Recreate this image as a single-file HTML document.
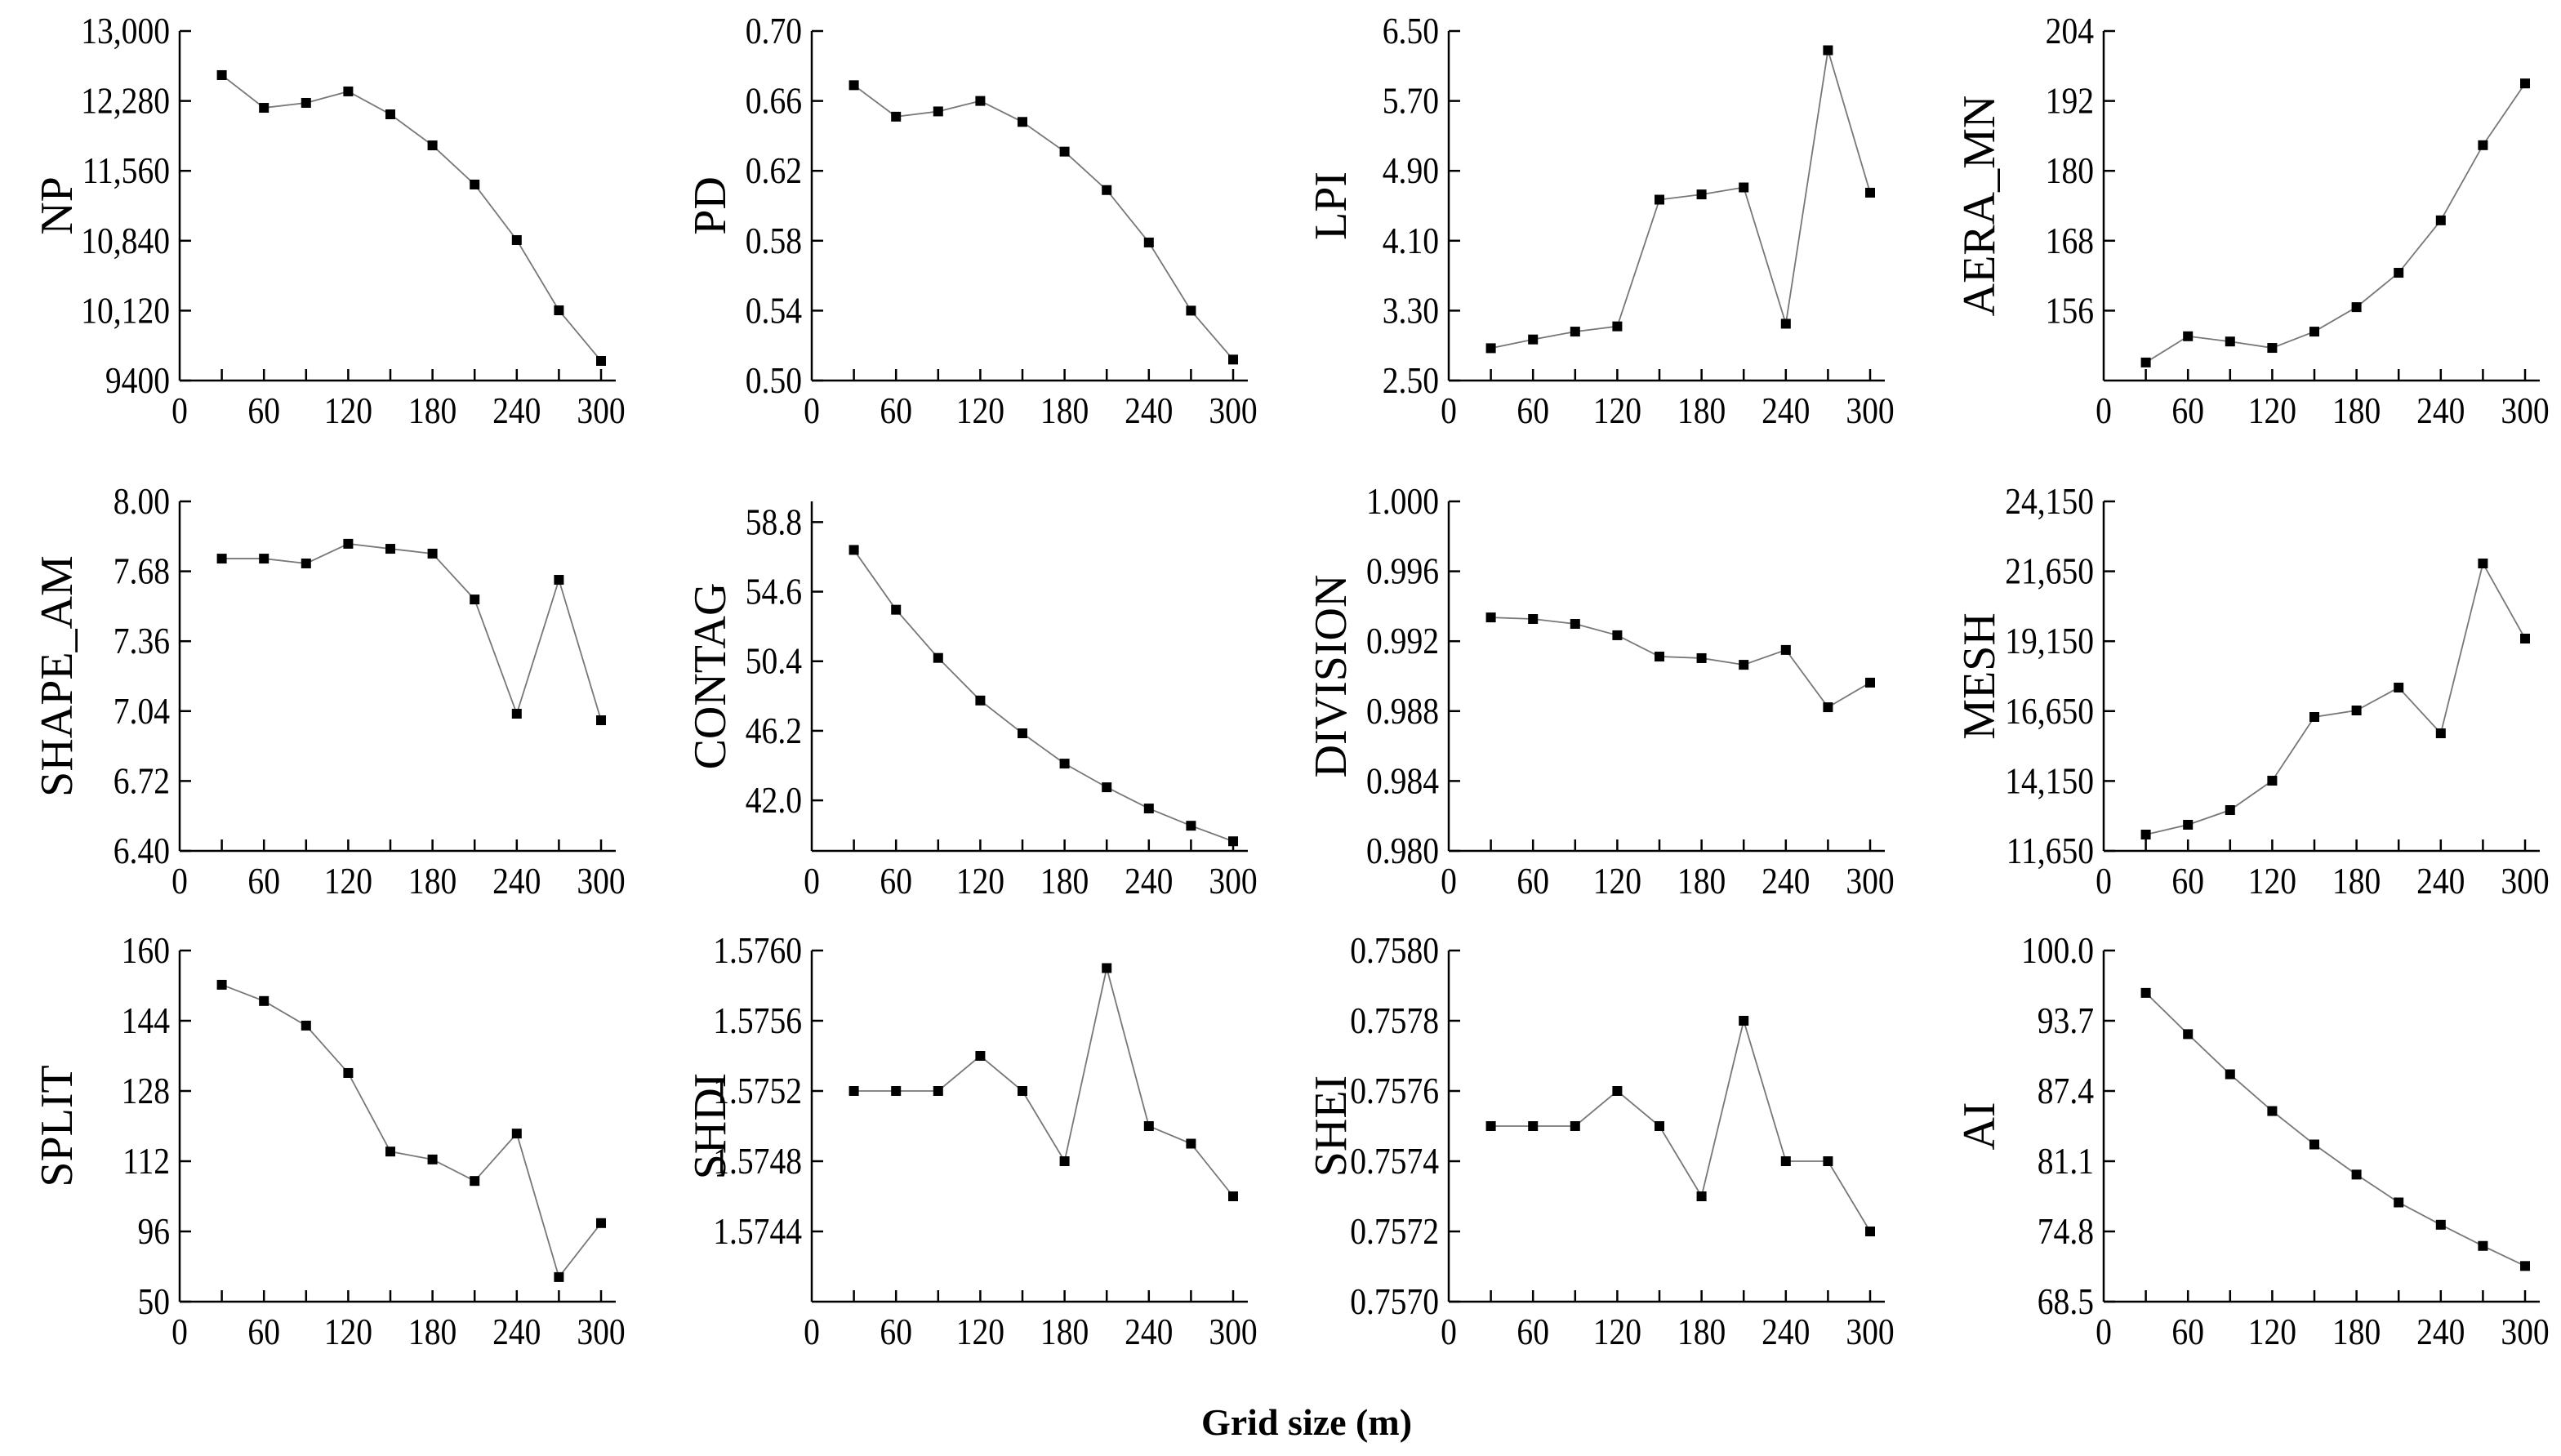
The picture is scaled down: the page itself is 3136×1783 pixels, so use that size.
<!DOCTYPE html>
<html><head><meta charset="utf-8">
<style>
html,body{margin:0;padding:0;background:#fff;}
svg{display:block;}
svg text{font-family:"Liberation Serif","Times New Roman",serif;}
</style></head>
<body>
<svg id="chart" width="3136" height="1783" viewBox="0 0 3136 1783" xmlns="http://www.w3.org/2000/svg">
<text x="1600" y="1757" text-anchor="middle" font-size="46" font-weight="bold" font-family="Liberation Serif, serif">Grid size (m)</text>
</svg>
<script>
const grid = [30,60,90,120,150,180,210,240,270,300];
const xTickValues = [0,60,120,180,240,300];
const xMinorTicks = [30,90,150,210,270];

const npValues = [12546,12209,12260,12378,12142,11822,11419,10847,10123,9602];
const pdValues = [0.669,0.651,0.654,0.660,0.648,0.631,0.609,0.579,0.540,0.512];
const lpiValues = [2.87,2.97,3.06,3.12,4.57,4.63,4.71,3.15,6.28,4.65];
const aeraValues = [147.1,151.6,150.7,149.6,152.4,156.6,162.5,171.5,184.4,195.0];
const shapeValues = [7.738,7.738,7.716,7.806,7.783,7.761,7.551,7.028,7.641,6.998];
const contagValues = [57.12,53.51,50.60,48.03,46.05,44.22,42.79,41.51,40.47,39.53];
const divisionValues = [0.99336,0.99327,0.99299,0.99234,0.99112,0.99103,0.99065,0.9915,0.98822,0.98963];
const meshValues = [12234,12585,13110,14161,16440,16673,17491,15856,21930,19243];
const splitValues = [152.2,148.5,142.9,132.1,114.2,112.4,107.5,118.3,85.6,97.9];
const shdiValues = [1.5752,1.5752,1.5752,1.5754,1.5752,1.5748,1.5759,1.5750,1.5749,1.5746];
const sheiValues = [0.7575,0.7575,0.7575,0.7576,0.7575,0.7573,0.7578,0.7574,0.7574,0.7572];
const aiValues = [96.2,92.5,88.9,85.6,82.6,79.9,77.4,75.4,73.5,71.7];

const npTicks = [9400,10120,10840,11560,12280,13000];
const npTickLabels = ["9400","10,120","10,840","11,560","12,280","13,000"];
const pdTicks = [0.50,0.54,0.58,0.62,0.66,0.70];
const pdTickLabels = ["0.50","0.54","0.58","0.62","0.66","0.70"];
const lpiTicks = [2.5,3.3,4.1,4.9,5.7,6.5];
const lpiTickLabels = ["2.50","3.30","4.10","4.90","5.70","6.50"];
const aeraTicks = [156,168,180,192,204];
const aeraTickLabels = ["156","168","180","192","204"];
const shapeTicks = [6.40,6.72,7.04,7.36,7.68,8.00];
const shapeTickLabels = ["6.40","6.72","7.04","7.36","7.68","8.00"];
const contagTicks = [42.0,46.2,50.4,54.6,58.8];
const contagTickLabels = ["42.0","46.2","50.4","54.6","58.8"];
const divisionTicks = [0.980,0.984,0.988,0.992,0.996,1.000];
const divisionTickLabels = ["0.980","0.984","0.988","0.992","0.996","1.000"];
const meshTicks = [11650,14150,16650,19150,21650,24150];
const meshTickLabels = ["11,650","14,150","16,650","19,150","21,650","24,150"];
const splitTicks = [80,96,112,128,144,160];
const splitTickLabels = ["50","96","112","128","144","160"];
const shdiTicks = [1.5744,1.5748,1.5752,1.5756,1.5760];
const shdiTickLabels = ["1.5744","1.5748","1.5752","1.5756","1.5760"];
const sheiTicks = [0.7570,0.7572,0.7574,0.7576,0.7578,0.7580];
const sheiTickLabels = ["0.7570","0.7572","0.7574","0.7576","0.7578","0.7580"];
const aiTicks = [68.5,74.8,81.1,87.4,93.7,100.0];
const aiTickLabels = ["68.5","74.8","81.1","87.4","93.7","100.0"];

const NS = "http://www.w3.org/2000/svg";
const svg = document.getElementById('chart');
const colX = [220,994,1774,2576];
const titleOff = [150,124,144,152];
const rowY = [[38,466],[614,1042],[1164,1594]];
const plotW = 516;
const FF = "Liberation Serif, serif";

const panels = [
 {title:"NP",key:"np",vals:npValues,dom:[9400,13000],t:npTicks,l:npTickLabels,c:0,r:0},
 {title:"PD",key:"pd",vals:pdValues,dom:[0.50,0.70],t:pdTicks,l:pdTickLabels,c:1,r:0},
 {title:"LPI",key:"lpi",vals:lpiValues,dom:[2.5,6.5],t:lpiTicks,l:lpiTickLabels,c:2,r:0},
 {title:"AERA_MN",key:"aera-mn",vals:aeraValues,dom:[144,204],t:aeraTicks,l:aeraTickLabels,c:3,r:0},
 {title:"SHAPE_AM",key:"shape-am",vals:shapeValues,dom:[6.40,8.00],t:shapeTicks,l:shapeTickLabels,c:0,r:1},
 {title:"CONTAG",key:"contag",vals:contagValues,dom:[38.95,60.05],t:contagTicks,l:contagTickLabels,c:1,r:1},
 {title:"DIVISION",key:"division",vals:divisionValues,dom:[0.980,1.000],t:divisionTicks,l:divisionTickLabels,c:2,r:1},
 {title:"MESH",key:"mesh",vals:meshValues,dom:[11650,24150],t:meshTicks,l:meshTickLabels,c:3,r:1},
 {title:"SPLIT",key:"split",vals:splitValues,dom:[80,160],t:splitTicks,l:splitTickLabels,c:0,r:2},
 {title:"SHDI",key:"shdi",vals:shdiValues,dom:[1.5740,1.5760],t:shdiTicks,l:shdiTickLabels,c:1,r:2},
 {title:"SHEI",key:"shei",vals:sheiValues,dom:[0.7570,0.7580],t:sheiTicks,l:sheiTickLabels,c:2,r:2},
 {title:"AI",key:"ai",vals:aiValues,dom:[68.5,100],t:aiTicks,l:aiTickLabels,c:3,r:2}
];

function mk(tag, attrs, parent){
  const e=document.createElementNS(NS,tag);
  for(const k in attrs) e.setAttribute(k,attrs[k]);
  parent.appendChild(e); return e;
}

panels.forEach(p=>{
  const x0=colX[p.c], top=rowY[p.r][0], bot=rowY[p.r][1];
  const xs=v=>x0+v/300*plotW;
  const ys=v=>bot-(v-p.dom[0])/(p.dom[1]-p.dom[0])*(bot-top);
  const g=mk('g',{},svg);
  
  
  const ya=mk('line',{x1:x0,y1:top,x2:x0,y2:bot,stroke:'#000','stroke-width':2.5},g);
  
  
  const xa=mk('line',{x1:x0,y1:bot,x2:x0+plotW+18,y2:bot,stroke:'#000','stroke-width':2.5},g);
  
  
  p.t.forEach((tv,i)=>{
    const y=ys(tv);
    mk('line',{x1:x0,y1:y,x2:x0+14,y2:y,stroke:'#000','stroke-width':2.5},g);
    const t=mk('text',{transform:`translate(${x0-12},${y+15}) scale(0.86,1)`,'text-anchor':'end','font-size':46,'font-family':FF},g);
    t.textContent=p.l[i];
    
    
  });
  xTickValues.concat(xMinorTicks).forEach(v=>{
    if(v===0) return;
    mk('line',{x1:xs(v),y1:bot,x2:xs(v),y2:bot-14,stroke:'#000','stroke-width':2.5},g);
  });
  xTickValues.forEach(v=>{
    const t=mk('text',{transform:`translate(${xs(v)},${bot+52}) scale(0.86,1)`,'text-anchor':'middle','font-size':46,'font-family':FF},g);
    t.textContent=String(v);
    
    
  });
  const tx=x0-titleOff[p.c], ty=(top+bot)/2;
  const tt=mk('text',{x:tx,y:ty,'text-anchor':'middle','dominant-baseline':'central','font-size':56,'font-family':FF,transform:`rotate(-90 ${tx} ${ty})`},g);
  tt.textContent=p.title;
  
  
  const pts=p.vals.map((v,i)=>xs(grid[i])+','+ys(v)).join(' ');
  const ln=mk('polyline',{points:pts,fill:'none',stroke:'#777','stroke-width':1.8},g);
  
  
  p.vals.forEach((v,i)=>{
    const m=mk('rect',{x:xs(grid[i])-6,y:ys(v)-6,width:12,height:12,fill:'#000'},g);
    
    
  });
});
</script>
</body></html>
